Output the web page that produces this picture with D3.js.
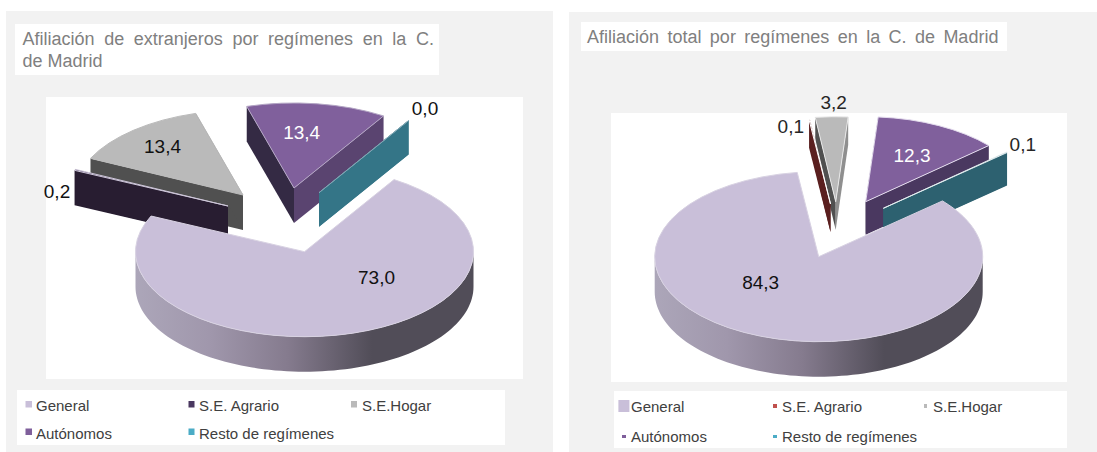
<!DOCTYPE html>
<html><head><meta charset="utf-8">
<style>html,body{margin:0;padding:0;background:#fff}svg{display:block}text{font-family:"Liberation Sans",Arial,sans-serif}</style>
<script src="https://cdn.jsdelivr.net/npm/d3@7"></script></head>
<body><svg id="c" width="1097" height="452"></svg>
<script>
const categories = ["General","S.E. Agrario","S.E.Hogar","Autónomos","Resto de regímenes"];
const valuesExtranjeros = [73.0,0.2,13.4,13.4,0.0];
const valuesTotal = [84.3,0.1,3.2,12.3,0.1];
const titleExtranjeros = ["Afiliación de extranjeros por regímenes en la C.","de Madrid"];
const titleTotal = ["Afiliación total por regímenes en la C. de Madrid"];
const fmt = v => v.toFixed(1).replace(".",",");

const svg = d3.select("#c");
const defs = svg.append("defs");
const faceColors = ["#c9bfd9","#4a3860","#bababa","#80609c","#347587"];

function pieChart(cfg){
  const g = svg.append("g");
  const rect=(r,f)=>g.append("rect").attr("x",r[0]).attr("y",r[1]).attr("width",r[2]-r[0]).attr("height",r[3]-r[1]).attr("fill",f);
  rect(cfg.panel,"#f2f2f2");
  rect(cfg.titleBox,"#fff");
  rect(cfg.plotBox,"#fff");
  rect(cfg.legendBox,"#fff");
  cfg.title.forEach((t,i)=>g.append("text").attr("x",cfg.titleX).attr("y",cfg.titleY+i*cfg.titleStep)
    .attr("font-size",cfg.titleSize).attr("fill","#808080").attr("word-spacing",(cfg.titleWS[i]||0)+"px").text(t));

  const pie = d3.pie().sort(null).startAngle(cfg.start*Math.PI/180).endAngle(cfg.start*Math.PI/180+2*Math.PI);
  const arcs = pie(cfg.values);
  const arc = d3.arc().innerRadius(0).outerRadius(cfg.rx);
  const k = cfg.ry/cfg.rx;
  const pt = (a,ox,oy,dz=0)=>[cfg.cx+ox+cfg.rx*Math.sin(a), cfg.cy+oy-cfg.ry*Math.cos(a)+dz];
  const line = d3.line();

  const gid = cfg.id+"side";
  const grad = defs.append("linearGradient").attr("id",gid).attr("gradientUnits","userSpaceOnUse")
    .attr("x1",cfg.cx-cfg.rx).attr("x2",cfg.cx+cfg.rx).attr("y1",0).attr("y2",0);
  [[0,"#aca6b9"],[0.22,"#a097ac"],[0.45,"#857b8e"],[0.7,"#514d58"],[1,"#514d58"]].forEach(s=>grad.append("stop").attr("offset",s[0]).attr("stop-color",s[1]));

  cfg.order.forEach(i=>{
    const d = arcs[i], [ox,oy] = cfg.offset[i], dz = cfg.depth[i];
    const s = g.append("g");
    if(i===0){
      const pts = d3.range(90,270.5,2).map(t=>t*Math.PI/180);
      const top = pts.map(a=>pt(a,ox,oy));
      const bot = pts.map(a=>pt(a,ox,oy,dz)).reverse();
      s.append("path").attr("d",line(top.concat(bot))+"Z").attr("fill",`url(#${gid})`);
    } else {
      [[d.startAngle,cfg.wallStart[i]],[d.endAngle,cfg.wallEnd[i]]].forEach(([a,col])=>{
        const apex=[cfg.cx+ox,cfg.cy+oy], tip=pt(a,ox,oy);
        s.append("path").attr("d",line([apex,tip,[tip[0],tip[1]+dz],[apex[0],apex[1]+dz]])+"Z").attr("fill",col);
      });
    }
    s.append("path").attr("d",arc(d))
      .attr("transform",`translate(${cfg.cx+ox},${cfg.cy+oy}) scale(1,${k})`)
      .attr("fill",cfg.faces[i]).attr("stroke",cfg.edge[i]).attr("stroke-width",1).attr("vector-effect","non-scaling-stroke");
  });

  cfg.values.forEach((v,i)=>g.append("text").attr("x",cfg.labelPos[i][0]).attr("y",cfg.labelPos[i][1])
    .attr("text-anchor","middle").attr("dominant-baseline","central").attr("font-size",cfg.labelSize)
    .attr("fill",cfg.labelColor[i]).text(fmt(v)));

  categories.forEach((c,i)=>{
    const m = cfg.legendMark[i];
    g.append("rect").attr("x",m[0]).attr("y",m[1]).attr("width",m[2]).attr("height",m[3]).attr("fill",cfg.legendColor[i]);
    g.append("text").attr("x",cfg.legendText[i][0]).attr("y",cfg.legendText[i][1]).attr("font-size",cfg.legendSize)
      .attr("fill","#404040").text(c);
  });
}

pieChart({
  id:"a", values:valuesExtranjeros, title:titleExtranjeros,
  panel:[6,11,553,452], titleBox:[15,24,439,75], plotBox:[46,97,523,379], legendBox:[17,390,505,445],
  titleX:22.5,titleY:45,titleStep:22,titleSize:18,titleWS:[4.6,0],
  start:32,cx:304.5,cy:251.7,rx:169,ry:85,
  order:[2,1,3,4,0],
  offset:[[0,0],[-76.5,-45.7],[-61.5,-56.7],[-10.5,-63.7],[14.5,-59]],
  depth:[35,35,35,35,34],
  wallStart:[null,"#281d31","#505050","#342a44","#347587"],
  wallEnd:[null,"#281d31","#505050","#5a4470","#347587"],
  faces:faceColors,
  edge:["#d8d2e2","#cfc8da","#bababa","#b3a5c4","#7fa6b3"],
  labelPos:[[376.5,277],[57,191],[162.5,146.7],[301.7,132.7],[425,108]],
  labelColor:["#111","#111","#111","#fff","#111"],labelSize:19,
  legendMark:[[25.5,401,6.5,6.5],[188.5,401,6,6.5],[351,401,6,6.5],[25.5,428.5,6.5,6.5],[188.5,428.5,6,6.5]],
  legendColor:["#c9bfd9","#4a3860","#bababa","#7f5f9b","#4bacc6"],
  legendText:[[36,411],[199,411],[362,411],[36,439],[199,439]],legendSize:15
});

pieChart({
  id:"b", values:valuesTotal, title:titleTotal,
  panel:[569,12,1097,452], titleBox:[581,22,1007,51], plotBox:[611,113,1067,382], legendBox:[614,391,1067,448],
  titleX:587,titleY:43,titleStep:22,titleSize:18,titleWS:[3.4],
  start:49,cx:818.7,cy:256.7,rx:164,ry:85,
  order:[2,1,3,4,0],
  offset:[[0,0],[11.8,-52.7],[17,-55],[47,-55],[64.6,-48.4]],
  depth:[35,28,28,33,33],
  wallStart:[null,"#5a1f1f","#505050","#342a44","#2d6170"],
  wallEnd:[null,"#5a1f1f","#8f8f8f","#4a3860","#2d6170"],
  faces:["#c9bfd9","#7a3a38","#bababa","#80609c","#2d6170"],
  edge:["#d8d2e2","#fff","#e8e8e8","#e4dcee","#e4eef0"],
  labelPos:[[760.7,282.3],[790.8,126.7],[833.7,102.7],[912,155.7],[1022.8,144]],
  labelColor:["#111","#262626","#262626","#fff","#262626"],labelSize:19,
  legendMark:[[618.4,400,11,12],[773,404,4,4],[924,404,3,4],[622,435,4,3],[773,435,4,3]],
  legendColor:["#c9bfd9","#c0504d","#bababa","#7f5f9b","#4bacc6"],
  legendText:[[631,412],[782,412],[933,412],[631,442],[782,442]],legendSize:15
});
</script></body></html>
